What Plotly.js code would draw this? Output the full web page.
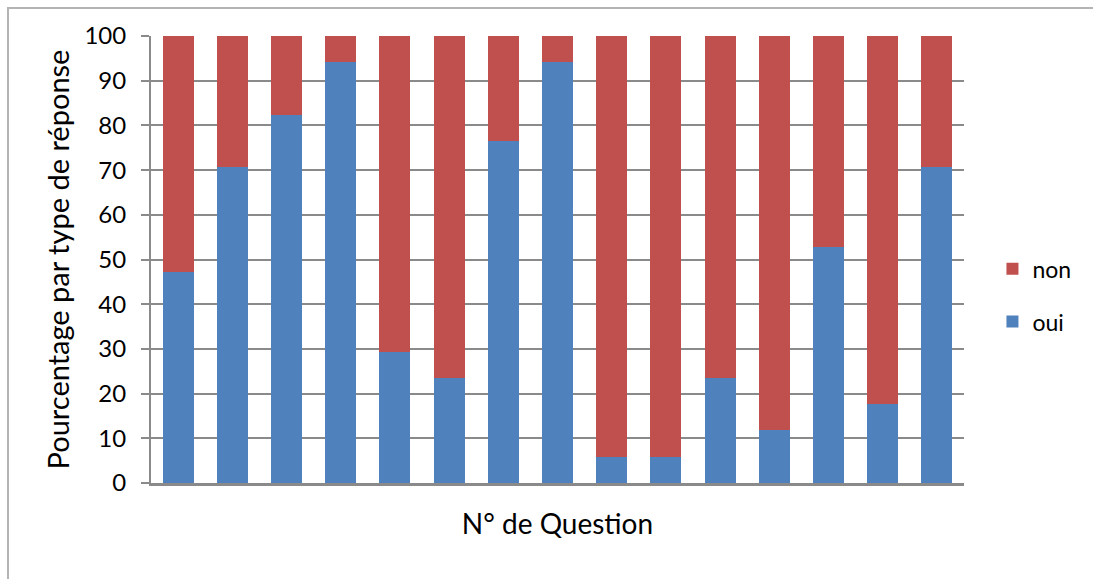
<!DOCTYPE html>
<html>
<head>
<meta charset="utf-8">
<script src="https://cdn.plot.ly/plotly-3.0.1.min.js"></script>
<style>
  html, body { margin: 0; padding: 0; background: #ffffff; }
  #wrap { position: relative; width: 1093px; height: 579px; overflow: hidden; }
  #frame { position: absolute; left: 7px; top: 7px; width: 1200px; height: 700px;
           border-left: 2px solid #b4b4b4; border-top: 2px solid #b4b4b4; }
  #chart { position: absolute; left: 0; top: 0; width: 1093px; height: 579px; }
</style>
</head>
<body>
<div id="wrap">
  <div id="frame"></div>
  <div id="chart"></div>
</div>
<script>
// Question numbers (no tick labels shown on the chart)
const questions = ["Q1","Q2","Q3","Q4","Q5","Q6","Q7","Q8","Q9","Q10","Q11","Q12","Q13","Q14","Q15"];
// Percentage of "oui" answers per question
const oui = [47.1, 70.6, 82.4, 94.1, 29.4, 23.5, 76.5, 94.1, 5.9, 5.9, 23.5, 11.8, 52.9, 17.6, 70.6];
// Percentage of "non" answers per question
const non = [52.9, 29.4, 17.6, 5.9, 70.6, 76.5, 23.5, 5.9, 94.1, 94.1, 76.5, 88.2, 47.1, 82.4, 29.4];
const yTicks = [0, 10, 20, 30, 40, 50, 60, 70, 80, 90, 100];

const FONT = "Lato, 'Open Sans', sans-serif";
const gridCol = "#8a8a8a";

const traces = [
  { type: "bar", name: "oui", x: questions, y: oui, legendgroup: "a", legendrank: 2,
    marker: { color: "#4F81BD", line: { width: 0 } }, hoverinfo: "y+name" },
  { type: "bar", name: "non", x: questions, y: non, legendgroup: "b", legendrank: 1,
    marker: { color: "#C0504D", line: { width: 0 } }, hoverinfo: "y+name" }
];

const layout = {
  width: 1093, height: 579,
  margin: { l: 151, r: 129, t: 36, b: 96, pad: 0 },
  paper_bgcolor: "rgba(0,0,0,0)",
  plot_bgcolor: "rgba(0,0,0,0)",
  barmode: "stack",
  bargap: 0.43,
  font: { family: FONT, color: "#000000" },
  showlegend: true,
  legend: {
    x: 1.035, xanchor: "left", y: 0.42, yanchor: "middle",
    traceorder: "grouped", tracegroupgap: 20,
    font: { family: FONT, size: 23, color: "#000000" },
    bgcolor: "rgba(0,0,0,0)", itemwidth: 30
  },
  xaxis: {
    type: "category",
    showticklabels: false, ticks: "",
    showgrid: false, zeroline: false,
    showline: true, linecolor: gridCol, linewidth: 2.5,
    title: { text: "N° de Question", font: { family: FONT, size: 28, color: "#000000" }, standoff: 30 },
    fixedrange: true
  },
  yaxis: {
    range: [0, 100], tickvals: yTicks, ticktext: yTicks.map(String),
    ticks: "outside", ticklen: 8, tickwidth: 2, tickcolor: gridCol,
    ticklabelstandoff: 10,
    showgrid: true, gridcolor: gridCol, gridwidth: 2,
    zeroline: false,
    showline: true, linecolor: gridCol, linewidth: 2,
    tickfont: { family: FONT, size: 24, color: "#000000" },
    title: { text: "Pourcentage par type de réponse", font: { family: FONT, size: 29, color: "#000000" }, standoff: 6 },
    fixedrange: true
  }
};

Plotly.newPlot("chart", traces, layout, { displayModeBar: false, staticPlot: true });
</script>
</body>
</html>
